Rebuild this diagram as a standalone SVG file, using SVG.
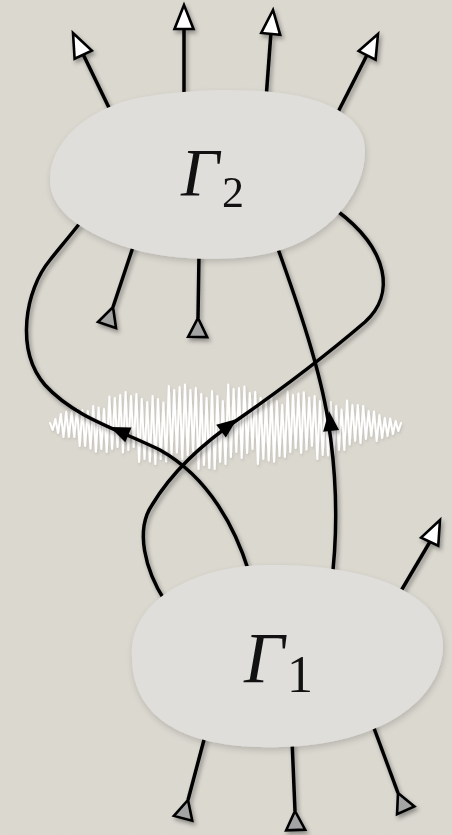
<svg xmlns="http://www.w3.org/2000/svg" width="452" height="835" viewBox="0 0 452 835">
<defs>
<style>
.ln{fill:none;stroke:#000;stroke-width:3.5;stroke-linecap:butt}
.blob{fill:#dfdedb}
.lab{font-family:"Liberation Serif","DejaVu Serif",serif;fill:#111}
.it{font-style:italic}
.noise{fill:none;stroke:#fff;stroke-width:2;stroke-linejoin:round;stroke-linecap:round}
</style>
<filter id="sh" x="-20%" y="-20%" width="140%" height="140%">
<feDropShadow dx="2" dy="3" stdDeviation="2" flood-color="#000" flood-opacity="0.35"/>
</filter>
<filter id="bsh" x="-20%" y="-20%" width="140%" height="140%">
<feDropShadow dx="1" dy="3" stdDeviation="3" flood-color="#000" flood-opacity="0.16"/>
</filter>
<filter id="nsh" x="-5%" y="-20%" width="110%" height="140%">
<feDropShadow dx="1" dy="2" stdDeviation="1.5" flood-color="#000" flood-opacity="0.12"/>
</filter>
<filter id="grain" x="0" y="0" width="100%" height="100%">
<feTurbulence type="fractalNoise" baseFrequency="0.9" numOctaves="2" seed="3" result="t"/>
<feColorMatrix in="t" type="matrix" values="0 0 0 0 0.55  0 0 0 0 0.53  0 0 0 0 0.5  0 0 0 0.08 0"/>
</filter>
<path id="wa" d="M0,0 L-24,-9.5 L-24,9.5 Z" fill="#fff" stroke="#000" stroke-width="2.6" stroke-linejoin="miter"/>
<path id="ga" d="M0,0 L19,-9.5 L19,9.5 Z" fill="#a4a4a4" stroke="#000" stroke-width="2.6" stroke-linejoin="miter"/>
<path id="ba" d="M0,0 L-20,-8 L-20,8 Z" fill="#000"/>
</defs>
<rect width="452" height="835" fill="#dcd9d1"/>
<rect width="452" height="835" filter="url(#grain)"/>

<g id="noise" filter="url(#nsh)">
<polyline class="noise" points="50,423 52.7,430 55.4,419 58.1,433 60.8,414 63.5,437 66.2,411.5 68.9,437 71.6,412 74.3,437 77,409 79.7,446 82.4,410 85.1,446 87.8,411 90.5,448.5 93.2,406 95.9,451.6 98.6,407.5 101.3,449 104,409 106.7,452 109.4,396.5 112.1,449 114.8,398 117.5,447 120.2,395 122.9,452.5 125.6,392 128.3,450 131,396 133.7,447 136.4,394 139.1,462 141.8,399 144.5,459 147.2,402 149.9,461.5 152.6,396 155.3,464 158,399 160.7,459 163.4,402.5 166.1,461.5 168.8,386 171.5,456 174.2,390 176.9,452.5 179.6,387 182.3,459 185,384.5 187.7,455 190.4,390 193.1,451 195.8,388 198.5,469 201.2,394 203.9,465 206.6,398 209.3,468 212,391 214.7,469 217.4,396 220.1,462 222.8,401 225.5,464 228.2,384.4 230.9,457 233.6,389 236.3,452 239,388 241.7,458 244.4,386.5 247.1,453 249.8,393 252.5,449 255.2,392 257.9,464 260.6,398 263.3,459 266,402 268.7,460.5 271.4,397 274.1,461.7 276.8,401 279.5,456 282.2,405 284.9,457 287.6,391.4 290.3,452 293,395 295.7,448 298.4,393.5 301.1,453 303.8,392.2 306.5,449.5 309.2,397.5 311.9,446 314.6,396 317.3,459 320,401 322.7,455 325.4,405.5 328.1,455.5 330.8,402 333.5,455.6 336.2,406 338.9,450 341.6,409.5 344.3,450 347,400.4 349.7,444.5 352.4,405 355.1,441 357.8,405 360.5,443 363.2,406 365.9,439 368.6,411 371.3,436 374,411.5 376.7,441 379.4,415 382.1,438 384.8,418 387.5,436 390.2,418.5 392.9,434 395.6,421 398.3,431 401,423"/>
</g>

<g id="connectors" filter="url(#sh)">
<path class="ln" d="M 249 572 C 236 530 210 478 160 450 C 120 430 75 418 45 385 C 15 350 25 290 50 260 C 58 250 68 238 80 223"/>
<path class="ln" d="M 165 601 C 145 570 135 530 152 505 C 170 475 200 445 240 418 C 280 390 330 352 365 322 C 395 295 390 250 336 210"/>
<path class="ln" d="M 333 570 C 338 520 336 470 328 420 C 320 370 300 310 277 246"/>
<use href="#ba" transform="translate(110,427) rotate(203)"/>
<use href="#ba" transform="translate(237,419) rotate(-37)"/>
<use href="#ba" transform="translate(329,411) rotate(-96)"/>
<path class="ln" d="M 113 116 L 82 52"/>
<use href="#wa" transform="translate(73,33) rotate(-115.2)"/>
<path class="ln" d="M 184 96 L 184 28"/>
<use href="#wa" transform="translate(184,5) rotate(-90)"/>
<path class="ln" d="M 266 99 L 271 32"/>
<use href="#wa" transform="translate(273,10) rotate(-84.5)"/>
<path class="ln" d="M 336 116 L 368 53"/>
<use href="#wa" transform="translate(378,34) rotate(-63)"/>
<path class="ln" d="M 134 244 L 113 307"/>
<use href="#ga" transform="translate(113,307) rotate(108.4)"/>
<path class="ln" d="M 199 254 L 198 318"/>
<use href="#ga" transform="translate(198,318) rotate(91)"/>
<path class="ln" d="M 398 596 L 431 540"/>
<use href="#wa" transform="translate(440,520) rotate(-64.5)"/>
<path class="ln" d="M 205 736 L 188 800"/>
<use href="#ga" transform="translate(188,800) rotate(105)"/>
<path class="ln" d="M 292 740 L 295 811"/>
<use href="#ga" transform="translate(295,811) rotate(88)"/>
<path class="ln" d="M 371 720 L 398 793"/>
<use href="#ga" transform="translate(398,793) rotate(66)"/>
</g>

<g id="gamma2">
<path class="blob" filter="url(#bsh)" d="M 50 180 C 50 140 90 110 130 100 C 170 90 220 89 260 91 C 310 94 365 110 365 150 C 365 200 320 245 260 255 C 220 262 160 260 120 245 C 80 230 50 210 50 180 Z"/>
<text class="lab" x="181" y="195"><tspan class="it" font-size="67">Γ</tspan></text>
<text class="lab" x="222" y="207" font-size="44">2</text>
</g>

<g id="gamma1">
<path class="blob" filter="url(#bsh)" d="M 132 657 C 130 625 150 600 180 585 C 205 572 235 565 270 565 C 360 564 443 590 443 645 C 443 700 380 745 280 747 C 180 750 132 715 132 657 Z"/>
<text class="lab" x="244" y="682"><tspan class="it" font-size="71">Γ</tspan></text>
<text class="lab" x="287" y="692" font-size="52">1</text>
</g>
</svg>
